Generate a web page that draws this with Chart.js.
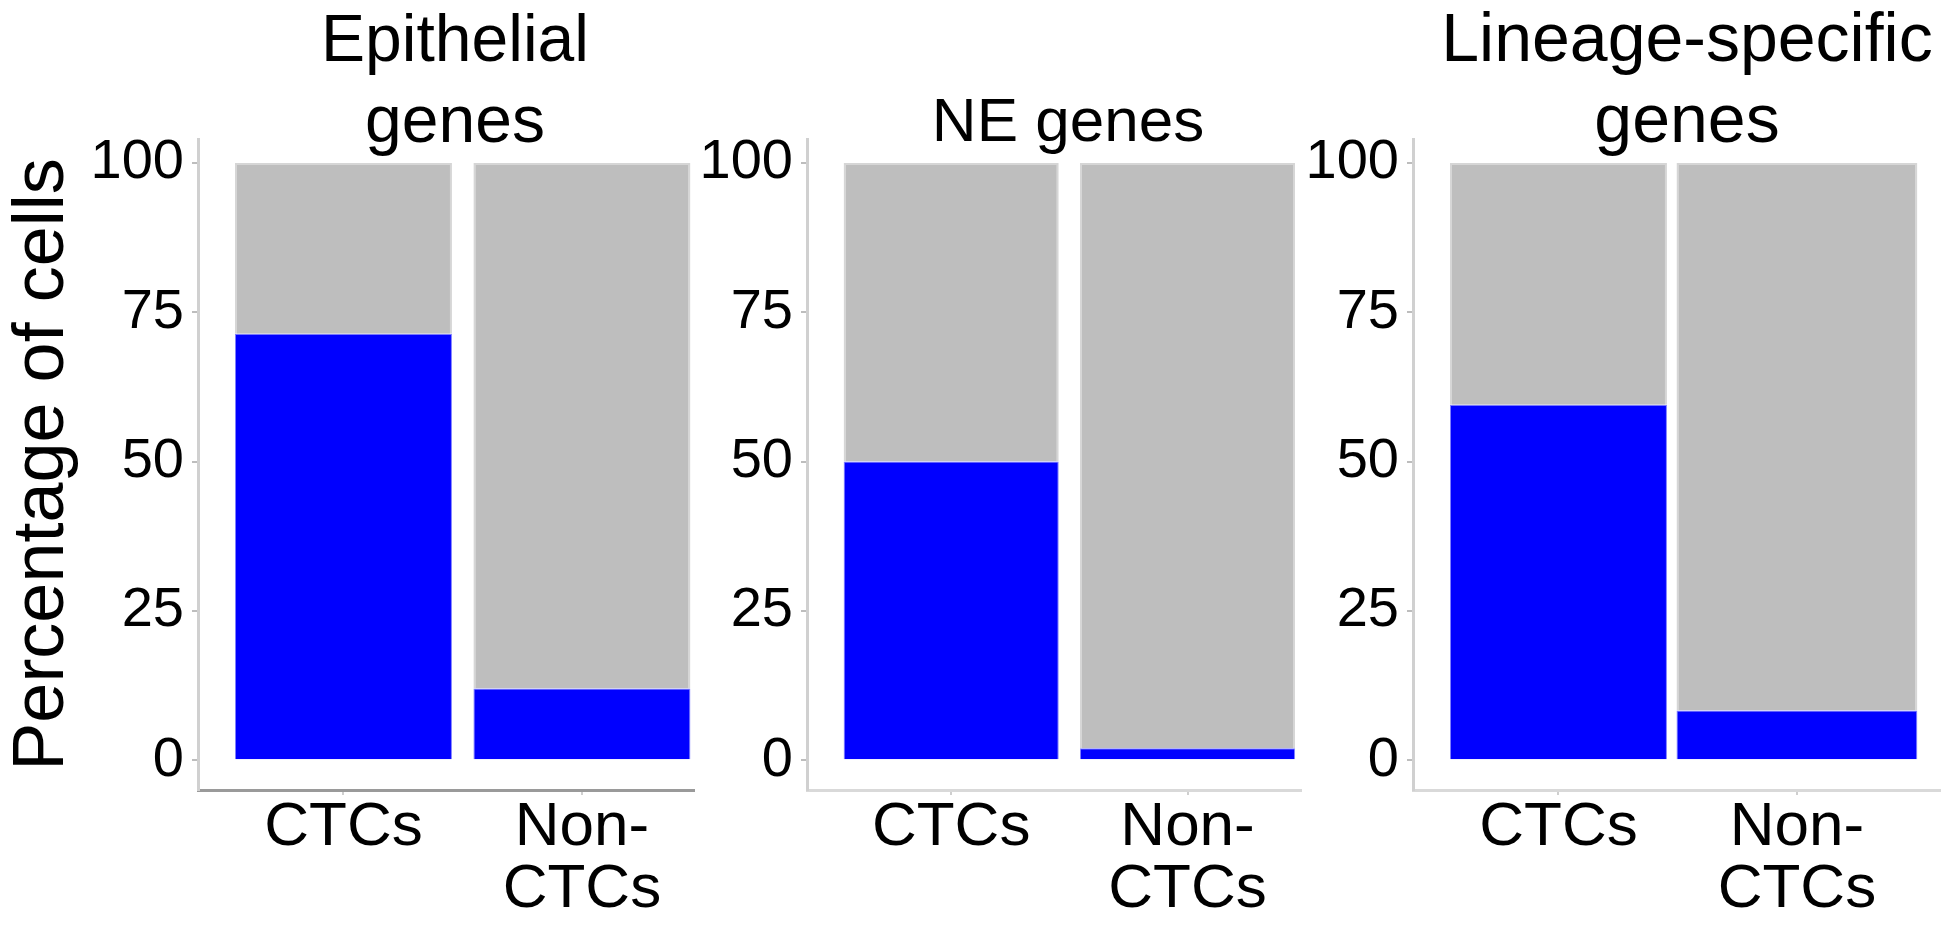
<!DOCTYPE html>
<html>
<head>
<meta charset="utf-8">
<script src="https://cdn.jsdelivr.net/npm/chart.js@4.4.1/dist/chart.umd.min.js"></script>
<style>
html, body { margin: 0; padding: 0; background: #fff; overflow: hidden; width: 1953px; height: 925px; position: relative; }
canvas { position: absolute; top: 0; }
</style>
</head>
<body>
<canvas id="c1"></canvas>
<canvas id="c2"></canvas>
<canvas id="c3"></canvas>
<script>
// values (percent of cells)
const panelTitles = [['Epithelial', 'genes'], ['NE genes'], ['Lineage-specific', 'genes']];
const categories = ['CTCs', 'Non-CTCs'];
const tickLabels = [['CTCs'], ['Non-', 'CTCs']];
const yTicks = [0, 25, 50, 75, 100];
const expressing = [[71.4, 12], [50, 2], [59.5, 8.3]];
const notExpressing = [[28.6, 88], [50, 98], [40.5, 91.7]];

Chart.defaults.font.family = "'Liberation Sans', Arial, sans-serif";
Chart.defaults.color = '#000';

// where each panel sits on the page
const panels = [
  { id: 'c1', left: 0,    width: 910, axisX: 198,  right: 694,  xMax: 2.47, xBorder: '#9a9a9a', yTitle: true,  titleSize: 66, barPct: [0.91, 0.91] },
  { id: 'c2', left: 690,  width: 756, axisX: 807,  right: 1301, xMax: 2.48, xBorder: '#d9d9d9', yTitle: false, titleSize: 62, barPct: [0.91, 0.91] },
  { id: 'c3', left: 1300, width: 774, axisX: 1413, right: 1940, xMax: 2.6,  xBorder: '#d9d9d9', yTitle: false, titleSize: 68, barPct: [0.91, 1.01] }
];

const H = 925;
const chartTop = 139;
const chartBottom = 790;
const titleLH = 81;
const titlePadBottom = -25;

panels.forEach((p, k) => {
  let canvas = document.getElementById(p.id);
  canvas.width = p.width;
  canvas.height = H;
  canvas.style.left = p.left + 'px';
  canvas.style.width = p.width + 'px';
  canvas.style.height = H + 'px';

  let lines = panelTitles[k].length;

  // one blue + one grey dataset per category, all in one stack
  let datasets = [];
  categories.forEach((c, i) => {
    datasets.push({
      label: c + ' expressed',
      data: [{ x: i + 1, y: expressing[k][i] }],
      backgroundColor: '#0000ff',
      borderColor: '#7f7fff',
      borderWidth: 1,
      barPercentage: p.barPct[i],
      categoryPercentage: 1,
      stack: 's'
    });
    datasets.push({
      label: c + ' not expressed',
      data: [{ x: i + 1, y: notExpressing[k][i] }],
      backgroundColor: '#bebebe',
      borderColor: '#d6d6d6',
      borderWidth: 2,
      barPercentage: p.barPct[i],
      categoryPercentage: 1,
      stack: 's'
    });
  });

  const config = {
    type: 'bar',
    data: { datasets: datasets },
    options: {
      responsive: false,
      animation: false,
      layout: {
        padding: { top: chartTop - (lines * titleLH + titlePadBottom), left: 0, right: 0, bottom: 0 }
      },
      scales: {
        x: {
          type: 'linear',
          min: 0.39,
          max: p.xMax,
          stacked: true,
          offset: false,
          afterBuildTicks: s => { s.ticks = categories.map((c, i) => ({ value: i + 1 })); },
          afterFit: s => { s.height = H - chartBottom; },
          ticks: {
            callback: v => tickLabels[v - 1],
            font: { size: 62, lineHeight: 1.0 },
            padding: 2,
            maxRotation: 0,
            autoSkip: false
          },
          grid: { drawOnChartArea: false, offset: false, tickLength: 5, color: '#cfcfcf', lineWidth: 2 },
          border: { color: p.xBorder, width: 3 }
        },
        y: {
          min: -5,
          max: 104,
          stacked: true,
          afterBuildTicks: s => { s.ticks = yTicks.map(v => ({ value: v })); },
          afterFit: s => { s.width = p.axisX - p.left; },
          ticks: { font: { size: 56 }, padding: 8 },
          grid: { drawOnChartArea: false, tickLength: 6, color: '#bdbdbd', lineWidth: 2 },
          border: { color: '#d0d0d0', width: 3 },
          title: {
            display: p.yTitle,
            text: 'Percentage of cells',
            font: { size: 72 },
            padding: { top: 0, bottom: 0 }
          }
        },
        // empty space on the right so the title centres where it should
        pad: {
          type: 'linear',
          position: 'right',
          grid: { display: false },
          border: { display: false },
          ticks: { display: false },
          afterFit: s => { s.width = p.width - (p.right - p.left); }
        }
      },
      plugins: {
        legend: { display: false },
        tooltip: { enabled: false },
        title: {
          display: true,
          text: panelTitles[k],
          color: '#000',
          font: { size: p.titleSize, weight: 'normal', lineHeight: titleLH + 'px' },
          padding: { top: 0, bottom: titlePadBottom }
        }
      }
    }
  };

  new Chart(canvas, config);
});
</script>
</body>
</html>
